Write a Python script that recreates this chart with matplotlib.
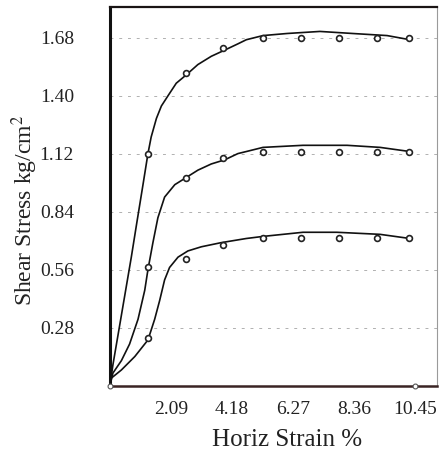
import matplotlib
matplotlib.use("Agg")
import matplotlib.pyplot as plt

plt.rcParams['font.family'] = ['Liberation Serif', 'DejaVu Serif']
plt.rcParams['mathtext.fontset'] = 'stix'

# measured points (markers)
strain_pts = [1.30, 2.60, 3.87, 5.24, 6.54, 7.84, 9.14, 10.24]
stress_high = [1.12, 1.51, 1.63, 1.68, 1.68, 1.68, 1.68, 1.68]
stress_mid = [0.57, 1.00, 1.10, 1.13, 1.13, 1.13, 1.13, 1.13]
stress_low = [0.23, 0.61, 0.68, 0.71, 0.71, 0.71, 0.71, 0.71]

# fitted curves
curve_high_x = [0.0, 0.10, 0.27, 0.50, 0.73, 0.90, 1.13, 1.30, 1.41, 1.59, 1.76, 1.99,
                2.27, 2.61, 3.01, 3.47, 3.93, 4.38, 4.67, 5.24, 6.06, 7.19, 8.32, 9.49, 10.27]
curve_high_y = [0.0, 0.10, 0.24, 0.43, 0.62, 0.77, 0.97, 1.12, 1.20, 1.29, 1.35, 1.40,
                1.46, 1.50, 1.55, 1.59, 1.62, 1.65, 1.67, 1.69, 1.70, 1.71, 1.70, 1.69, 1.67]
curve_mid_x = [0.0, 0.10, 0.39, 0.67, 0.96, 1.19, 1.30, 1.47, 1.64, 1.87, 2.22, 2.56, 3.01,
               3.47, 3.93, 4.38, 4.67, 5.24, 6.61, 8.12, 9.25, 10.27]
curve_mid_y = [0.0, 0.06, 0.12, 0.20, 0.32, 0.46, 0.56, 0.69, 0.81, 0.91, 0.97, 1.00, 1.04,
               1.07, 1.09, 1.12, 1.13, 1.15, 1.16, 1.16, 1.15, 1.13]
curve_low_x = [0.0, 0.04, 0.39, 0.85, 1.30, 1.53, 1.70, 1.87, 2.04, 2.33, 2.67, 3.13, 3.81,
               4.67, 5.24, 6.61, 7.77, 9.25, 10.27]
curve_low_y = [0.0, 0.035, 0.075, 0.14, 0.22, 0.32, 0.41, 0.51, 0.57, 0.62, 0.65, 0.67, 0.69,
               0.71, 0.72, 0.74, 0.74, 0.73, 0.71]

xticks = [2.09, 4.18, 6.27, 8.36, 10.45]
yticks = [0.28, 0.56, 0.84, 1.12, 1.40, 1.68]

fig = plt.figure(figsize=(4.41, 4.59), dpi=100)
ax = fig.add_axes([110/441, 1-385.5/459, (437-110)/441, (385.5-7)/459])

for yt in yticks:
    ax.axhline(yt, color='#b0b0b0', lw=0.7, ls=(0, (3, 6)), zorder=1)

for cx, cy in [(curve_high_x, curve_high_y), (curve_mid_x, curve_mid_y), (curve_low_x, curve_low_y)]:
    ax.plot(cx, cy, color='#111111', lw=1.2, zorder=3, solid_joinstyle='round')

for sy in [stress_high, stress_mid, stress_low]:
    ax.plot(strain_pts, sy, ls='none', marker='o', ms=4.2, mfc='white',
            mec='#222222', mew=1.2, zorder=4)

ax.plot([0, 10.45], [0, 0], ls='none', marker='o', ms=3.5, mfc='white',
        mec='#555555', mew=0.8, zorder=5, clip_on=False)

ax.set_xlim(0, 11.2)
ax.set_ylim(0, 1.828)
ax.set_xticks(xticks)
ax.set_xticklabels([f"{v:.2f}" for v in xticks])
ax.set_yticks(yticks)
ax.set_yticklabels([f"{v:.2f}" for v in yticks])
ax.tick_params(axis='both', length=0, labelsize=14, colors='#222222')
ax.tick_params(axis='y', pad=26)
ax.tick_params(axis='x', pad=11)

ax.spines['left'].set_linewidth(2.2)
ax.spines['left'].set_color('#111111')
ax.spines['top'].set_linewidth(1.6)
ax.spines['top'].set_color('#1a1414')
ax.spines['bottom'].set_linewidth(1.8)
ax.spines['bottom'].set_color('#3a2424')
ax.spines['right'].set_linewidth(0.8)
ax.spines['right'].set_color('#9a9a9a')

fig.text(25/441, 1-210/459, 'Shear Stress kg/cm$^{2}$', rotation=90,
         ha='center', va='center', fontsize=17, color='#222222')
fig.text(287/441, 1-440/459, 'Horiz Strain %', ha='center', va='center',
         fontsize=18, color='#222222')

fig.savefig('out.png', dpi=100)
